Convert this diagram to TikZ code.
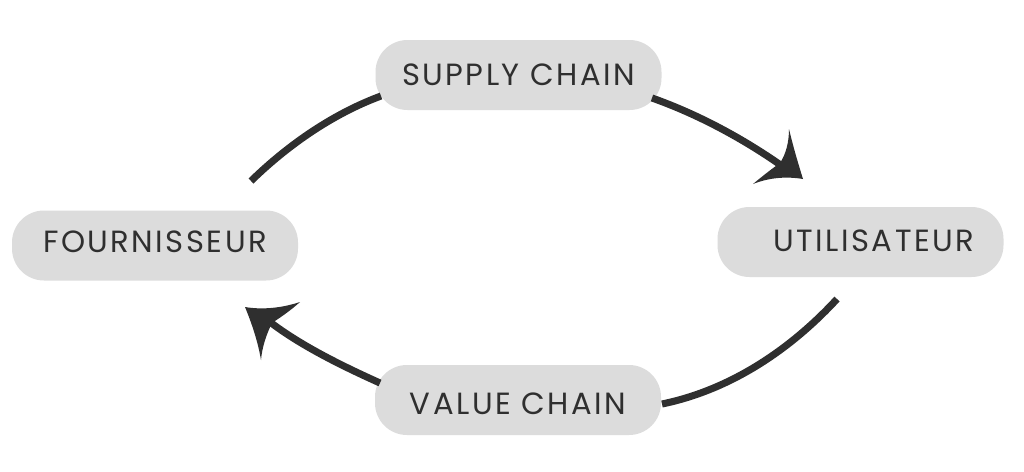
\documentclass[tikz,border=0pt]{standalone}
\usepackage{fontspec}
\setmainfont{Poppins}
\definecolor{pill}{HTML}{DCDCDC}
\definecolor{ink}{HTML}{2F2F2F}
\newcommand{\pilltext}[3]{\hspace*{#1}\raisebox{#2}[\height][\depth]{\addfontfeature{LetterSpace=8}#3}}
\tikzset{
 pillbox/.style={fill=pill,rounded corners=24pt,minimum height=52.5pt,minimum width=214.5pt,inner sep=0pt,font=\fontsize{23}{28}\selectfont,text=ink},
 arc/.style={draw=ink,line width=5.3pt}
}
\begin{document}
\begin{tikzpicture}[x=0.75pt,y=-0.75pt]
\useasboundingbox (0,0) rectangle (1024,471);
\fill[white] (0,0) rectangle (1024,471);
\node[pillbox] (s) at (518.5,75) {\pilltext{0pt}{0pt}{SUPPLY CHAIN}};
\node[pillbox] (f) at (155,245.5) {\pilltext{0pt}{3pt}{FOURNISSEUR}};
\node[pillbox] (u) at (860.5,242) {\pilltext{20pt}{0.7pt}{UTILISATEUR}};
\node[pillbox] (v) at (518,400) {\pilltext{0pt}{-2.5pt}{VALUE CHAIN}};
\coordinate (a1) at (251,181);
\coordinate (a2) at (381,96);
\coordinate (b1) at (652,98);
\coordinate (b2) at (782,166);
\coordinate (c1) at (837,299);
\coordinate (c2) at (662,404);
\coordinate (d1) at (380,383);
\coordinate (d2) at (270,322);
\draw[arc] (a1) .. controls (290,143) and (335,113) .. (a2);
\draw[arc] (b1) .. controls (700,115) and (745,140) .. (b2);
\draw[arc] (c1) .. controls (790,350) and (730,390) .. (c2);
\draw[arc] (d1) .. controls (340,365) and (300,345) .. (d2);
\fill[ink] (803,179) .. controls (785,176) and (768,178) .. (753,184) .. controls (765,174) and (773,168) .. (780,163) .. controls (786,154) and (789,142) .. (789,129) .. controls (793,146) and (798,163) .. (803,179) -- cycle;
\fill[ink] (245,307) .. controls (262,310) and (282,308) .. (300,302) .. controls (290,311) and (281,317) .. (272,323) .. controls (266,335) and (262,348) .. (261,360) .. controls (258,342) and (252,324) .. (245,307) -- cycle;
\end{tikzpicture}
\end{document}
